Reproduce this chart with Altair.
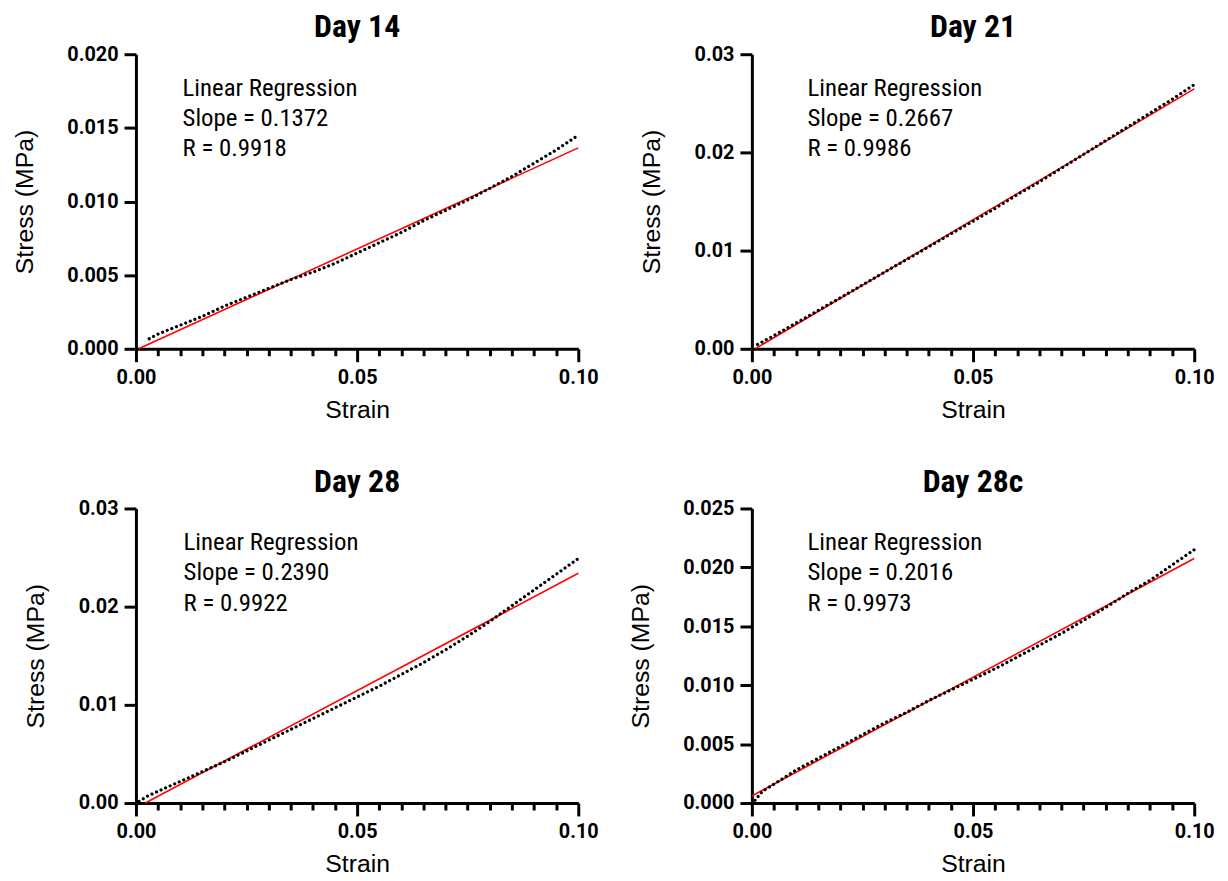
import altair as alt
import pandas as pd

# ---------------- data ----------------
panel_names = ["Day 14", "Day 21", "Day 28", "Day 28c"]

strain_d14 = [0.003, 0.005, 0.010, 0.015, 0.020, 0.025, 0.030, 0.035, 0.040, 0.045, 0.050,
              0.055, 0.060, 0.065, 0.070, 0.075, 0.080, 0.085, 0.090, 0.095, 0.100]
stress_d14 = [0.00068, 0.0010, 0.0016, 0.0022, 0.0029, 0.0035, 0.0041, 0.0047, 0.0052, 0.0058, 0.0065,
              0.0072, 0.0079, 0.0087, 0.0094, 0.0101, 0.0109, 0.0117, 0.0126, 0.0135, 0.0145]

strain_d21 = [0.0013, 0.005, 0.010, 0.015, 0.020, 0.025, 0.030, 0.035, 0.040, 0.045, 0.050,
              0.055, 0.060, 0.065, 0.070, 0.075, 0.080, 0.085, 0.090, 0.095, 0.100]
stress_d21 = [0.00044, 0.00135, 0.00262, 0.0039, 0.0052, 0.0065, 0.0078, 0.0091, 0.0104, 0.0117, 0.0130,
              0.0143, 0.0157, 0.0170, 0.0184, 0.0198, 0.0212, 0.0226, 0.0240, 0.0254, 0.0269]

strain_d28 = [0.0007, 0.0026, 0.005, 0.010, 0.015, 0.020, 0.025, 0.030, 0.035, 0.040, 0.045, 0.050,
              0.055, 0.060, 0.065, 0.070, 0.075, 0.080, 0.085, 0.090, 0.095, 0.100]
stress_d28 = [0.00017, 0.0007, 0.0012, 0.0022, 0.0032, 0.0042, 0.0053, 0.0064, 0.0075, 0.0086, 0.0097, 0.0108,
              0.0119, 0.0131, 0.0143, 0.0156, 0.0170, 0.0185, 0.0201, 0.0217, 0.0233, 0.0249]

strain_d28c = [0.0007, 0.0024, 0.005, 0.010, 0.015, 0.020, 0.025, 0.030, 0.035, 0.040, 0.045, 0.050,
               0.055, 0.060, 0.065, 0.070, 0.075, 0.080, 0.085, 0.090, 0.095, 0.100]
stress_d28c = [0.00023, 0.0010, 0.0016, 0.0028, 0.0038, 0.0048, 0.0058, 0.0068, 0.0077, 0.0087, 0.0096, 0.0105,
               0.0114, 0.0124, 0.0134, 0.0144, 0.0155, 0.0166, 0.0178, 0.0189, 0.0202, 0.0215]

slopes = [0.1372, 0.2667, 0.2390, 0.2016]
r_values = ["0.9918", "0.9986", "0.9922", "0.9973"]
intercepts = [-0.00008, -0.0002, -0.0005, 0.0006]
reg_start = [0.0006, 0.0008, 0.0021, 0.0]
reg_end = [0.100, 0.100, 0.100, 0.100]

y_max = [0.020, 0.03, 0.03, 0.025]
y_ticks = [[0.0, 0.005, 0.010, 0.015, 0.020],
           [0.0, 0.01, 0.02, 0.03],
           [0.0, 0.01, 0.02, 0.03],
           [0.0, 0.005, 0.010, 0.015, 0.020, 0.025]]
y_formats = [".3f", ".2f", ".2f", ".3f"]
x_ticks = [0.0, 0.005, 0.010, 0.015, 0.020, 0.025, 0.030, 0.035, 0.040, 0.045, 0.050,
           0.055, 0.060, 0.065, 0.070, 0.075, 0.080, 0.085, 0.090, 0.095, 0.100]
text_dx = [47, 56, 48, 56]

series = [(strain_d14, stress_d14), (strain_d21, stress_d21),
          (strain_d28, stress_d28), (strain_d28c, stress_d28c)]

TITLE_FONT = "Roboto Condensed, Liberation Sans Narrow, Arial Narrow, Liberation Sans, sans-serif"
NOTE_FONT = "Roboto Condensed, Liberation Sans Narrow, Arial Narrow, Roboto, sans-serif"
major_test = "abs(datum.value*20 - round(datum.value*20)) < 0.000001"


def panel(i):
    xs, ys = series[i]
    df = pd.DataFrame({"strain": xs, "stress": ys})
    rx = [reg_start[i], reg_end[i]]
    reg = pd.DataFrame({"strain": rx, "stress": [intercepts[i] + slopes[i] * v for v in rx]})

    xenc = alt.X("strain:Q",
                 scale=alt.Scale(domain=[0, 0.1], nice=False),
                 axis=alt.Axis(values=x_ticks, title="Strain", labelFlush=False,
                               labelExpr=f"{major_test} ? format(datum.value, '.2f') : ''",
                               tickSize={"condition": {"test": major_test, "value": 13}, "value": 7},
                               labelPadding=6, titlePadding=10))
    yenc = alt.Y("stress:Q",
                 scale=alt.Scale(domain=[0, y_max[i]], nice=False),
                 axis=alt.Axis(values=y_ticks[i], format=y_formats[i], title="Stress (MPa)",
                               tickSize=12, labelPadding=6, titlePadding=30))

    red = alt.Chart(reg).mark_line(color="#ff0000", strokeWidth=1.6).encode(x=xenc, y=yenc)
    dots = alt.Chart(df).mark_line(color="black", strokeWidth=3.2, strokeDash=[0.01, 5],
                                   strokeCap="round").encode(x=xenc, y=yenc)
    note = alt.Chart(pd.DataFrame({"k": [0]})).mark_text(
        align="left", baseline="alphabetic", font=NOTE_FONT, fontSize=25, lineHeight=30.5,
        color="black",
        text=["Linear Regression", f"Slope = {slopes[i]:.4f}", f"R = {r_values[i]}"]
    ).encode(x=alt.value(text_dx[i]), y=alt.value(42))

    return alt.layer(red, dots, note).properties(
        width=446, height=297,
        title=alt.TitleParams(panel_names[i], font=TITLE_FONT, fontSize=32, fontWeight="bold",
                              color="black", anchor="middle", offset=0),
    )


chart = alt.concat(*[panel(i) for i in range(4)], columns=2,
                   spacing={"row": 44, "column": 29}).properties(
    padding={"left": 4, "top": 0, "right": 5, "bottom": 0}
).configure_axis(
    domainColor="black", domainWidth=3, tickColor="black", tickWidth=3, grid=False,
    labelFont="Roboto", labelFontWeight="bold", labelFontSize=20, labelColor="black",
    titleFont="Liberation Sans, Arial, sans-serif", titleFontSize=25, titleFontWeight="normal",
    titleColor="black",
).configure_view(stroke=None)

chart.save("out.html", embed_options={"renderer": "svg", "actions": False})
